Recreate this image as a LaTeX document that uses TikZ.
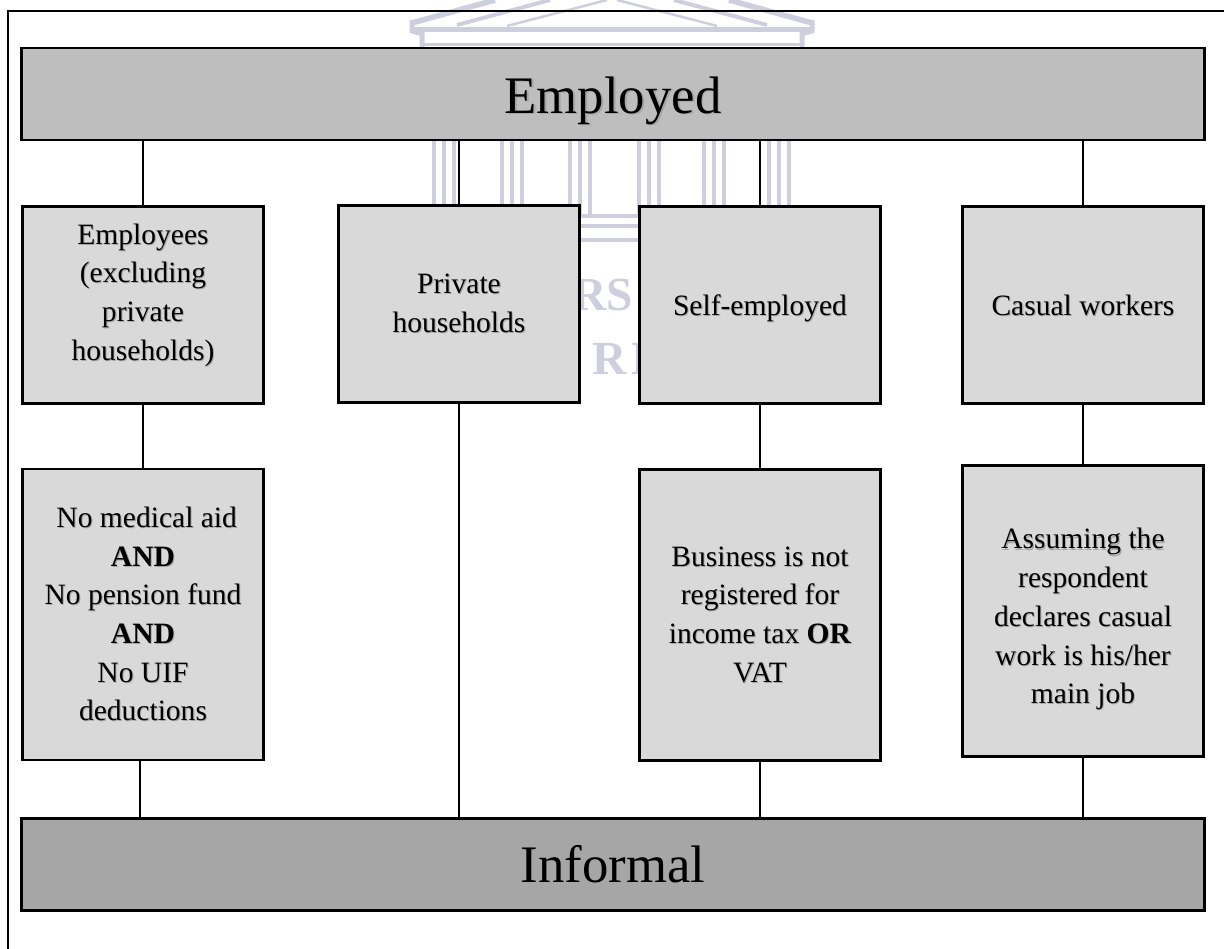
\documentclass[tikz,border=0pt]{standalone}
\usepackage{fontspec}
\setmainfont{Liberation Serif}
\usepackage{xcolor}
\definecolor{MarkBlue}{HTML}{CDCFDE}
\definecolor{BandGray}{HTML}{BEBEBE}
\definecolor{BoxGray}{HTML}{D9D9D9}
\definecolor{BaseGray}{HTML}{A6A6A6}
\newcommand{\shtxt}[1]{\leavevmode\rlap{\kern0.035em\raisebox{-0.035em}{\textcolor{black!35}{#1}}}#1}
\newcommand{\lowpad}[1]{\rule[-#1]{0pt}{#1}}
\tikzset{
    wide/.style={draw=black, line width=0.027cm, minimum width=11.82cm, minimum height=0.92cm, inner sep=0pt, text height=0.38cm, text depth=0pt, font=\fontsize{15}{18}\selectfont},
    cat/.style={draw=black, line width=0.027cm, fill=BoxGray, minimum width=2.41cm, minimum height=1.97cm, inner sep=0pt, align=center, font=\fontsize{8.4}{11}\selectfont},
    single/.style={text height=0.2cm, text depth=0pt},
    rule/.style={draw=black, line width=0.027cm, fill=BoxGray, minimum width=2.41cm, minimum height=2.91cm, inner sep=0pt, align=center, font=\fontsize{8.4}{11}\selectfont},
    link/.style={line width=0.025cm},
    mark line/.style={MarkBlue, line width=0.04cm},
    mark letter/.style={text=MarkBlue, inner sep=0pt, font=\fontsize{13.5}{15}\selectfont\bfseries}
}
\begin{document}
\begin{tikzpicture}[x=0.01cm, y=-0.01cm]
    \useasboundingbox (0,0) rectangle (1224,949);
    \foreach \side in {1,-1} {
        \draw[MarkBlue, line width=0.055cm] (612-\side*200,23) -- (612-\side*117,0);
        \draw[MarkBlue, line width=0.04cm] (612-\side*155,25) -- (612-\side*62,0);
        \draw[MarkBlue, line width=0.025cm] (612-\side*105,26) -- (612-\side*5,0);
        \draw[MarkBlue, line width=0.05cm] (612-\side*200,20) -- (612-\side*200,31) -- (612-\side*190,34) -- (612-\side*190,48);
    }
    \draw[MarkBlue, line width=0.05cm] (412,30) -- (812,30);
    \draw[MarkBlue, line width=0.03cm] (422,45) -- (802,45);
    \foreach \x in {432,500,568,637,702,767} {
        \foreach \k in {2,12,22} {
            \draw[mark line] (\x+\k,140) -- (\x+\k,216);
        }
    }
    \foreach \y in {216,226,240} {
        \draw[MarkBlue, line width=0.035cm] (430,\y) -- (800,\y);
    }
    \node[mark letter, anchor=east] (markA) at (634,295) {RS};
    \node[mark letter, anchor=west] (markB) at (592,359) {R\kern1.2pt N};
    \draw[line width=0.02cm] (8,949) -- (8,11) -- (1224,11);
    \node[wide, fill=BandGray] (employed) at (613,94) {\shtxt{Employed}};
    \node[cat] (staff) at (143,305) {\shtxt{Employees}\\\shtxt{(excluding}\\\shtxt{private}\\\shtxt{households)}\lowpad{0.26cm}};
    \node[cat] (house) at (459,304) {\shtxt{Private}\\\shtxt{households}};
    \node[cat, single] (self) at (760,305) {\shtxt{Self-employed}};
    \node[cat, single] (casual) at (1083,305) {\shtxt{Casual workers}};
    \node[rule] (staffrule) at (143,614.5) {\kern0.25em\shtxt{No medical aid}\\\shtxt{\textbf{AND}}\\\shtxt{No pension fund}\\\shtxt{\textbf{AND}}\\\shtxt{No UIF}\\\shtxt{deductions}};
    \node[rule] (selfrule) at (760,615) {\shtxt{Business is not}\\\shtxt{registered for}\\\shtxt{income tax \textbf{OR}}\\\shtxt{VAT}};
    \node[rule] (casualrule) at (1083,611) {\rule{0pt}{0.38cm}\shtxt{Assuming the}\\\shtxt{respondent}\\\shtxt{declares casual}\\\shtxt{work is his/her}\\\shtxt{main job}};
    \node[wide, fill=BaseGray, text height=0.35cm] (informal) at (613,864.5) {\shtxt{Informal}};
    \foreach \n in {staff,house,self,casual} {
        \draw[link] (employed.south -| \n.north) -- (\n.north);
    }
    \draw[link] (staff) -- (staffrule);
    \draw[link] (self) -- (selfrule);
    \draw[link] (casual) -- (casualrule);
    \draw[link] (house.south) -- (informal.north -| house.south);
    \draw[link] ([xshift=-0.03cm]staffrule.south) -- ([xshift=-0.03cm]informal.north -| staffrule.south);
    \draw[link] (selfrule.south) -- (informal.north -| selfrule.south);
    \draw[link] (casualrule.south) -- (informal.north -| casualrule.south);
\end{tikzpicture}
\end{document}
